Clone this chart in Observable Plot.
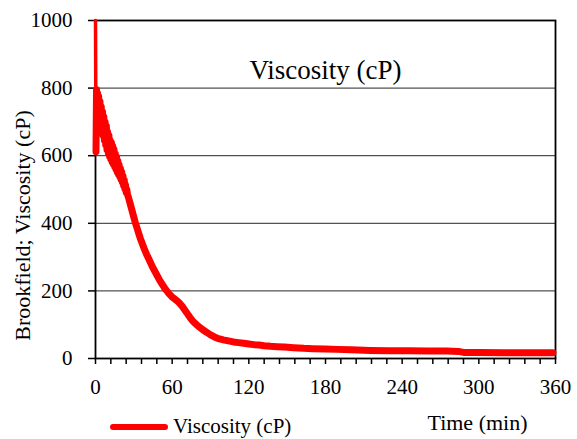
<!DOCTYPE html>
<html>
<head>
<meta charset="utf-8">
<script src="https://cdn.jsdelivr.net/npm/d3@7"></script>
<script src="https://cdn.jsdelivr.net/npm/@observablehq/plot@0.6"></script>
<style>
  html, body { margin: 0; padding: 0; background: #fff; }
  #wrap { position: relative; width: 577px; height: 439px; overflow: hidden; }
  #chart svg, #chart svg text { font-family: 'Liberation Serif', 'Times New Roman', serif !important; font-variant: normal !important; }
  #legend { position: absolute; left: 110px; top: 414px; display: flex; align-items: center;
            font-family: 'Liberation Serif', 'Times New Roman', serif; font-size: 21px; color: #000; }
  #legend svg { margin-right: 5px; }
</style>
</head>
<body>
<div id="wrap"><div id="chart"></div><div id="legend"></div></div>
<script>
// ---- data ----
const titleText = "Viscosity (cP)";
const yLabel = "Brookfield; Viscosity (cP)";
const xLabel = "Time (min)";
const seriesName = "Viscosity (cP)";
const lineColor = "#ff0000";

const yTicks = [0, 200, 400, 600, 800, 1000];
const xTicks = [0, 60, 120, 180, 240, 300, 360];
const xMinorTicks = [0, 12, 24, 36, 48, 60, 72, 84, 96, 108, 120, 132, 144, 156, 168, 180,
  192, 204, 216, 228, 240, 252, 264, 276, 288, 300, 312, 324, 336, 348, 360];

// time (min)
const times = [
  0, 0.4, 0.8, 1.2, 1.6, 2.0, 2.5, 3.0, 3.5, 4.0, 4.5, 5.0, 5.5, 6.0, 6.5, 7.0, 7.5, 8.0, 8.5, 9.0, 9.5,
  10.0, 10.5, 11.0, 11.5, 12.0, 12.5, 13.0, 13.5, 14.0, 14.5, 15.0, 15.5, 16.0, 16.5, 17.0, 17.5,
  18.0, 18.5, 19.0, 19.5, 20.0, 20.5, 21.0, 21.5, 22.0, 22.5, 23.0, 23.5, 24.0, 24.5,
  25, 26, 27, 28, 29, 30, 31, 32, 33, 34, 35, 36, 37, 38, 39, 40, 41, 42, 43, 44, 45, 46, 47, 48, 49,
  50, 51, 52, 53, 54, 55, 56, 57, 58, 59, 60, 62, 64, 66, 68, 70, 72, 74, 76, 78, 80, 82, 84, 86, 88,
  90, 92, 94, 96, 98, 100, 104, 108, 112, 116, 120, 124, 128, 132, 137, 142, 148, 155, 163, 170,
  180, 189, 200, 215, 230, 245, 260, 275, 284, 288, 300, 320, 340, 358
];
// viscosity (cP)
const viscosity = [
  1000, 612, 795, 720, 785, 725, 775, 705, 760, 690, 745, 675, 730, 660, 715, 645, 700, 632, 688, 618, 670,
  608, 660, 598, 645, 590, 638, 582, 628, 575, 618, 568, 606, 560, 596, 552, 584,
  545, 573, 538, 562, 530, 552, 522, 540, 512, 528, 502, 514, 492, 500,
  486, 474, 460, 446, 432, 418, 404, 392, 380, 368, 356, 346, 336, 326, 317, 308, 300, 292, 284, 276, 268, 261, 254, 247, 240,
  233, 227, 221, 215, 209, 204, 199, 194, 190, 186, 182, 176, 170, 163, 154, 143, 132, 121, 111, 104, 97, 91, 85, 80, 75,
  70, 66, 62, 59, 57, 55, 52, 49, 47, 45, 43, 41, 40, 38, 36, 35, 34, 32, 30, 29,
  28, 27, 26, 24, 23, 23, 22, 22, 21, 18, 18, 17, 17, 17
];

const data = times.map((t, i) => ({t, v: viscosity[i]}));
const spike = data.slice(0, 3);
const rest = data.slice(1);

const font = "'Liberation Serif', 'Times New Roman', serif";

const chart = Plot.plot({
  width: 577,
  height: 439,
  marginLeft: 95,
  marginRight: 22,
  marginTop: 20,
  marginBottom: 81,
  style: {fontFamily: font, fontSize: "21px", color: "#000", background: "#fff", overflow: "visible"},
  x: {domain: [0, 360]},
  y: {domain: [0, 1000]},
  marks: [
    Plot.gridY(yTicks.filter(d => d > 0 && d < 1000), {stroke: "#000", strokeOpacity: 0.85, strokeWidth: 1}),
    Plot.axisY(yTicks, {tickSize: 7, tickPadding: 16, label: null, fontSize: 21, strokeWidth: 1.5,
      tickFormat: d => String(d)}),
    Plot.axisX(xMinorTicks, {tickSize: 6, tickPadding: 15, label: null, fontSize: 21, strokeWidth: 1.5,
      tickFormat: d => xTicks.includes(d) ? String(d) : ""}),
    Plot.frame({stroke: "#000", strokeWidth: 1.8}),
    Plot.line(spike, {x: "t", y: "v", stroke: lineColor, strokeWidth: 3.5}),
    Plot.line(rest, {x: "t", y: "v", stroke: lineColor, strokeWidth: 7, strokeLinejoin: "round"}),
    Plot.text([titleText], {text: d => d, frameAnchor: "top", dy: 50, lineAnchor: "middle", fontSize: 27}),
    Plot.text([yLabel], {text: d => d, frameAnchor: "left", textAnchor: "middle", rotate: -90, dx: -73, dy: 36,
      fontSize: 22, letterSpacing: "1.2px"}),
    Plot.text([xLabel], {text: d => d, frameAnchor: "bottom", dx: 152, dy: 64, lineAnchor: "middle", fontSize: 22})
  ]
});
document.getElementById("chart").appendChild(chart);

// legend
const lg = document.getElementById("legend");
lg.innerHTML = `<svg width="58" height="12"><line x1="3" y1="6" x2="55" y2="6" stroke="${lineColor}" stroke-width="6" stroke-linecap="round"/></svg><span>${seriesName}</span>`;
</script>
</body>
</html>
